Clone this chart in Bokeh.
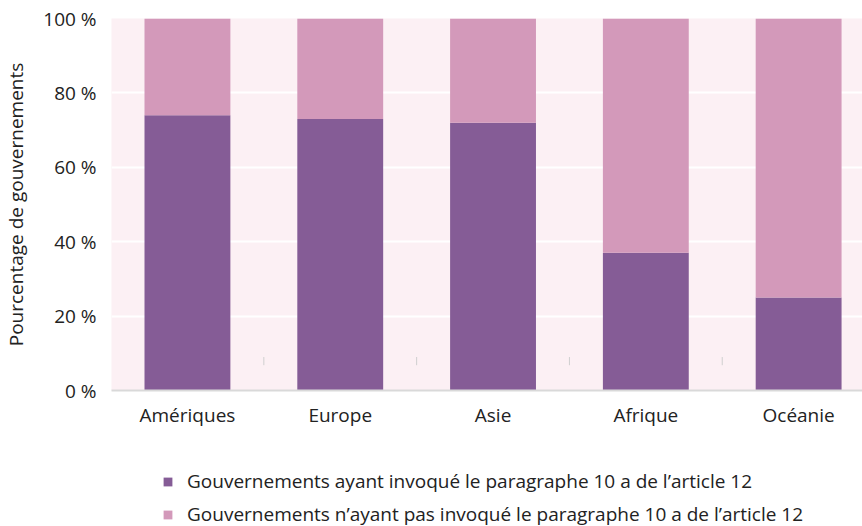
from bokeh.plotting import figure
from bokeh.layouts import column
from bokeh.models import ColumnDataSource, Legend, LegendItem, FixedTicker, PrintfTickFormatter, Range1d
from bokeh.embed import file_html
from bokeh.resources import INLINE

categories = ["Amériques", "Europe", "Asie", "Afrique", "Océanie"]
invoked = [74, 73, 72, 37, 25]
not_invoked = [100 - v for v in invoked]
series_labels = ["Gouvernements ayant invoqué le paragraphe 10 a de l’article 12",
                 "Gouvernements n’ayant pas invoqué le paragraphe 10 a de l’article 12"]
y_ticks = [0, 20, 40, 60, 80, 100]

FONT = "Open Sans"
DARK = "#855c96"
LIGHT = "#d399ba"
TXT = "#222222"

xs = list(range(len(categories)))
src = ColumnDataSource(dict(x=xs, a=invoked, b=not_invoked))

p = figure(width=862, height=440, output_backend="svg", toolbar_location=None,
           x_range=Range1d(-0.497, 4.418), y_range=Range1d(0, 100),
           min_border_left=110, min_border_right=0, min_border_top=18, min_border_bottom=50)
p.outline_line_color = None
p.background_fill_color = "#fcf0f4"
p.border_fill_color = "white"

r = p.vbar_stack(["a", "b"], x="x", width=0.562, color=[DARK, LIGHT], source=src, line_color=None)

# small separators between categories
sep_x = [i + 0.5 for i in range(len(categories) - 1)]
p.segment(x0=sep_x, x1=sep_x, y0=[6.8] * len(sep_x), y1=[9.0] * len(sep_x), line_color="#cfcfcf", line_width=1)

p.xgrid.grid_line_color = None
p.ygrid.grid_line_color = "white"
p.ygrid.grid_line_width = 2
p.ygrid.ticker = FixedTicker(ticks=y_ticks)

p.xaxis.ticker = FixedTicker(ticks=xs)
p.xaxis.major_label_overrides = {i: c for i, c in enumerate(categories)}
p.xaxis.major_tick_line_color = None
p.xaxis.minor_tick_line_color = None
p.xaxis.axis_line_color = "#d9d9d9"
p.xaxis.axis_line_width = 2
p.xaxis.major_label_text_font = FONT
p.xaxis.major_label_text_font_size = "19px"
p.xaxis.major_label_text_color = TXT
p.xaxis.major_label_standoff = 5

p.yaxis.ticker = FixedTicker(ticks=y_ticks)
p.yaxis.formatter = PrintfTickFormatter(format="%d %%")
p.yaxis.major_tick_line_color = None
p.yaxis.minor_tick_line_color = None
p.yaxis.axis_line_color = None
p.yaxis.major_label_text_font = FONT
p.yaxis.major_label_text_font_size = "19px"
p.yaxis.major_label_text_color = TXT
p.yaxis.major_label_standoff = 9
p.yaxis.axis_label = "Pourcentage de gouvernements"
p.yaxis.axis_label_text_font = FONT
p.yaxis.axis_label_text_font_size = "19px"
p.yaxis.axis_label_text_font_style = "normal"
p.yaxis.axis_label_text_color = TXT
p.yaxis.axis_label_standoff = 11

# legend panel
lg = figure(width=862, height=86, output_backend="svg", toolbar_location=None,
            x_range=Range1d(0, 1), y_range=Range1d(0, 1),
            min_border=0)
lg.axis.visible = False
lg.grid.visible = False
lg.outline_line_color = None
hidden = ColumnDataSource(dict(x=[-5], top=[-5]))
g1 = lg.vbar(x="x", top="top", width=0.1, fill_color=DARK, line_color=None, source=hidden)
g2 = lg.vbar(x="x", top="top", width=0.1, fill_color=LIGHT, line_color=None, source=hidden)
legend = Legend(items=[LegendItem(label=series_labels[0], renderers=[g1]),
                       LegendItem(label=series_labels[1], renderers=[g2])],
                location=(51, -1), orientation="vertical",
                label_text_font=FONT, label_text_font_size="19px", label_text_color=TXT,
                glyph_width=11, glyph_height=11, spacing=7, label_height=21,
                border_line_color=None, background_fill_alpha=0, padding=0, margin=0,
                label_standoff=14)
lg.add_layout(legend, "center")

open("out.html", "w").write(file_html(column(p, lg, spacing=0), INLINE))
